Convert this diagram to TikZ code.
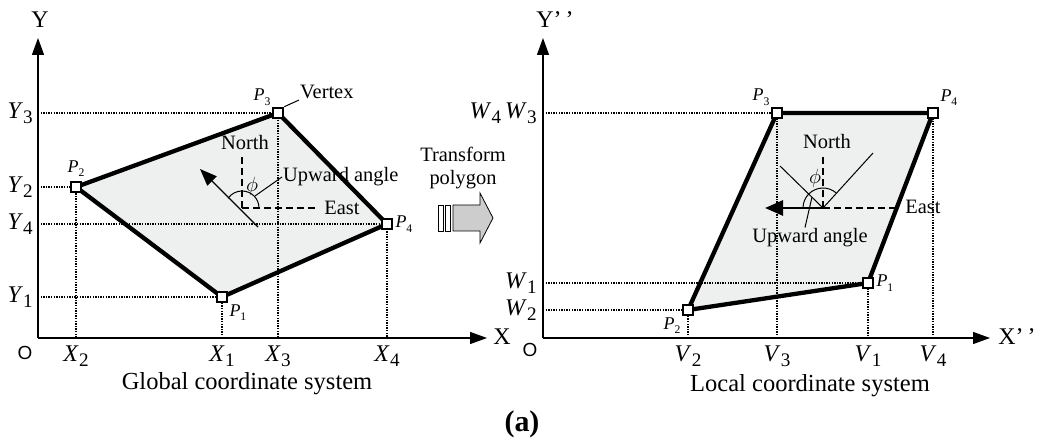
\documentclass[tikz,border=0pt]{standalone}
\usepackage{fontspec}
\setmainfont{Liberation Serif}
\newfontfamily\sansO{Liberation Sans}
\usetikzlibrary{arrows.meta, positioning, calc}

\definecolor{facegray}{RGB}{238,240,240}
\definecolor{shadowgray}{RGB}{198,198,198}
\definecolor{blockgray}{RGB}{205,205,205}
\newcommand\sublab[2]{\textit{#1}\kern0.3bp\raisebox{-0.2em}{\scalebox{0.8}{#2}}}
\newcommand\psub[2]{\textit{#1}\raisebox{-0.25em}{\scalebox{0.65}{#2}}}

\begin{document}
\begin{tikzpicture}[x=1bp, y=-1bp,
    axis/.style={line width=1.3bp, -{Triangle[length=17bp,width=12bp]}},
    guide/.style={line width=1.5bp, dash pattern=on 1.4bp off 1.2bp},
    rim/.style={line width=4.3bp, line join=round},
    vtx/.style={rectangle, draw, line width=2.6bp, fill=white, minimum size=10bp, inner sep=0pt},
    compass/.style={line width=2bp, dash pattern=on 7bp off 4bp},
    leader/.style={line width=1bp},
    lbl/.style={font=\fontsize{20.5}{24}\selectfont, inner sep=1bp},
    captxt/.style={font=\fontsize{24.6}{28}\selectfont, inner sep=1bp},
    tick/.style={font=\fontsize{24}{28}\selectfont, inner sep=2bp},
    plab/.style={font=\fontsize{18}{20}\selectfont, inner sep=1bp},
    origin/.style={font=\sansO\fontsize{19}{22}\selectfont, inner sep=1bp}]
  \useasboundingbox (0,0) rectangle (1041,440);

  % global coordinate system
  \coordinate (O1) at (38,338);
  \coordinate (P1) at (222,297);
  \coordinate (P2) at (76,187);
  \coordinate (P3) at (278,113);
  \coordinate (P4) at (387,224);
  \fill[shadowgray, shift={(4,5)}] (P1) -- (P2) -- (P3) -- (P4) -- cycle;
  \fill[facegray] (P1) -- (P2) -- (P3) -- (P4) -- cycle;
  \draw[axis] (O1) -- (38,38);
  \draw[axis] (O1) -- (487,338);
  \foreach \p in {P1,P2,P3,P4}
    \draw[guide] (O1 |- \p) -- (\p) -- (\p |- O1);
  \draw[rim] (P1) -- (P2) -- (P3) -- (P4) -- cycle;
  \node[vtx] (p1) at (P1) {};
  \node[vtx] (p2) at (P2) {};
  \node[vtx] (p3) at (P3) {};
  \node[vtx] (p4) at (P4) {};
  \node[plab, below right=0bp and 0bp of p1] (p1lab) {\psub{P}{1}};
  \node[plab, above=3bp of p2] (p2lab) {\psub{P}{2}};
  \node[plab, above left=0bp and 0bp of p3] (p3lab) {\psub{P}{3}};
  \node[plab, right=1bp of p4] (p4lab) {\psub{P}{4}};
  \node[lbl, anchor=west] (vertex) at (299,92) {Vertex};
  \draw[leader] (p3.north east) -- (vertex.south west);

  \node[tick] (ylab) at (40,20) {Y};
  \node[tick] (xlab) at (502,337) {X};
  \node[origin] (o1) at (25,353) {O};
  \node[tick, left=3bp of {O1 |- P1}] (y1) {\sublab{Y}{1}};
  \node[tick, left=3bp of {O1 |- P2}] (y2) {\sublab{Y}{2}};
  \node[tick, left=3bp of {O1 |- P3}] (y3) {\sublab{Y}{3}};
  \node[tick, left=3bp of {O1 |- P4}] (y4) {\sublab{Y}{4}};
  \node[tick, below=6bp of {P1 |- O1}] (x1) {\sublab{X}{1}};
  \node[tick, below=6bp of {P2 |- O1}] (x2) {\sublab{X}{2}};
  \node[tick, below=6bp of {P3 |- O1}] (x3) {\sublab{X}{3}};
  \node[tick, below=6bp of {P4 |- O1}] (x4) {\sublab{X}{4}};

  \coordinate (n1) at (242,208);
  \draw[compass] (n1) -- (242,155);
  \draw[compass] (n1) -- (317,208);
  \node[lbl] (north1) at (245,143) {North};
  \node[lbl] (east1) at (342,208) {East};
  \draw[line width=1.4bp, -{Triangle[length=17bp,width=13bp]}] (258,227) -- (200,169);
  \draw[leader] ($(n1)+(17,0)$) arc[start angle=0, end angle=145, radius=17bp];
  \node[lbl] (phi1) at (252,186) {$\phi$};
  \node[lbl, anchor=west] (up1) at (282,177) {Upward angle};
  \draw[leader] (255,196) -- (up1.west);
  \node[captxt] (glob) at (247,384) {Global coordinate system};

  % transform arrow
  \draw[fill=white, line width=0.8bp] (438,205) rectangle (443,231);
  \draw[fill=white, line width=0.8bp] (445,205) rectangle (450,231);
  \draw[fill=blockgray, line width=0.8bp] (453,205) -- (480,205) -- (480,193)
    -- (493,218) -- (480,243) -- (480,231) -- (453,231) -- cycle;
  \node[lbl, align=center] (trans) at (463,168) {Transform\\polygon};

  % local coordinate system
  \coordinate (O2) at (543,338);
  \coordinate (Q1) at (868,283);
  \coordinate (Q2) at (688,310);
  \coordinate (Q3) at (777,113);
  \coordinate (Q4) at (933,113);
  \fill[shadowgray, shift={(5,4)}] (Q1) -- (Q2) -- (Q3) -- (Q4) -- cycle;
  \fill[facegray] (Q1) -- (Q2) -- (Q3) -- (Q4) -- cycle;
  \draw[axis] (O2) -- (543,38);
  \draw[axis] (O2) -- (990,338);
  \foreach \p in {Q1,Q2,Q3}
    \draw[guide] (O2 |- \p) -- (\p) -- (\p |- O2);
  \draw[guide] (Q4) -- (Q4 |- O2);
  \draw[rim] (Q1) -- (Q2) -- (Q3) -- (Q4) -- cycle;
  \node[vtx] (q1) at (Q1) {};
  \node[vtx] (q2) at (Q2) {};
  \node[vtx] (q3) at (Q3) {};
  \node[vtx] (q4) at (Q4) {};
  \node[plab, right=1bp of q1] (q1lab) {\psub{P}{1}};
  \node[plab, below left=0bp and 0bp of q2] (q2lab) {\psub{P}{2}};
  \node[plab, above left=0bp and 0bp of q3] (q3lab) {\psub{P}{3}};
  \node[plab, above right=0bp and 0bp of q4] (q4lab) {\psub{P}{4}};

  \node[tick] (yylab) at (555,20) {Y’\,’};
  \node[tick] (xxlab) at (1017,337) {X’\,’};
  \node[origin] (o2) at (530,350) {O};
  \node[tick, left=4bp of {O2 |- Q1}] (w1) {\sublab{W}{1}};
  \node[tick, left=4bp of {O2 |- Q2}] (w2) {\sublab{W}{2}};
  \node[tick, left=4bp of {O2 |- Q3}] (w34) {\sublab{W}{4}\,\sublab{W}{3}};
  \node[tick, below=6bp of {Q1 |- O2}] (v1) {\sublab{V}{1}};
  \node[tick, below=6bp of {Q2 |- O2}] (v2) {\sublab{V}{2}};
  \node[tick, below=6bp of {Q3 |- O2}] (v3) {\sublab{V}{3}};
  \node[tick, below=6bp of {Q4 |- O2}] (v4) {\sublab{V}{4}};

  \coordinate (n2) at (823,208);
  \draw[compass] (n2) -- (823,153);
  \draw[compass] (n2) -- (895,208);
  \node[lbl] (north2) at (827,142) {North};
  \node[lbl] (east2) at (923,207) {East};
  \draw[leader] (n2) -- (780,166);
  \draw[leader] (n2) -- (873,153);
  \draw[line width=2.7bp, -{Triangle[length=18bp,width=15bp]}] (n2) -- (765,208);
  \draw[leader] ($(n2)+(-20,0)$) arc[start angle=180, end angle=50, radius=20bp];
  \node[lbl] (phi2) at (815,178) {$\phi$};
  \node[lbl] (up2) at (810,238) {Upward angle};
  \draw[leader] (up2.north) ++(-5,0) -- (812,197);
  \node[captxt] (loc) at (810,386) {Local coordinate system};

  \node[captxt, font=\fontsize{30}{34}\selectfont\bfseries] (tag) at (522,424) {(a)};
\end{tikzpicture}
\end{document}
